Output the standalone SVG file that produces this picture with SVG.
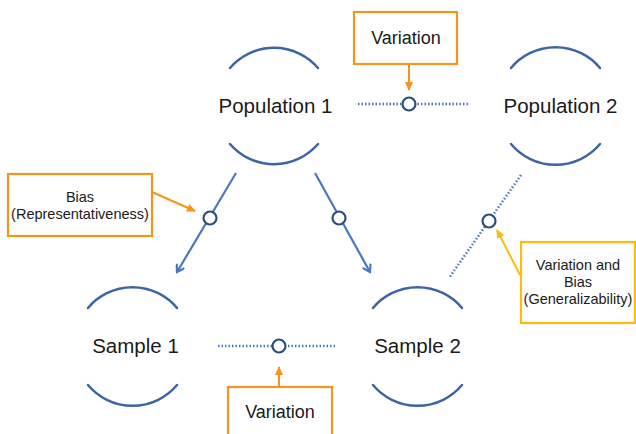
<svg xmlns="http://www.w3.org/2000/svg" width="636" height="434" viewBox="0 0 636 434">
<style>
.arc{fill:none;stroke:#3c64a6;stroke-width:2.5;stroke-linecap:round}
.lbl{font-family:"Liberation Sans",Arial,sans-serif;font-size:20.5px;fill:#1a1a1a;text-anchor:middle}
.sm{font-family:"Liberation Sans",Arial,sans-serif;font-size:14.5px;fill:#1a1a1a;text-anchor:middle}
.box{font-family:"Liberation Sans",Arial,sans-serif;font-size:18px;fill:#1a1a1a;text-anchor:middle}
.solid{stroke:#4a78bf;stroke-width:2.2;fill:none}
.dot{stroke:#4a78bf;stroke-width:2.5;stroke-dasharray:1.5 2;fill:none}
.ring{fill:#fff;stroke:#2c4c80;stroke-width:2.2}
.ob{fill:#fff;stroke:#f7941d;stroke-width:2.2}
.yb{fill:#fff;stroke:#fbbb10;stroke-width:2.2}
.oa{stroke:#f7941d;stroke-width:2;fill:none}
.ya{stroke:#fbbb10;stroke-width:2;fill:none}
</style>
<defs>
<marker id="bh" markerWidth="10" markerHeight="10" refX="8" refY="5" orient="auto" markerUnits="userSpaceOnUse">
<path d="M1,0.5 L8,5 L1,9.5" fill="none" stroke="#4a78bf" stroke-width="2.2"/>
</marker>
<marker id="oh" markerWidth="10" markerHeight="10" refX="8" refY="5" orient="auto" markerUnits="userSpaceOnUse">
<path d="M0,1 L9,5 L0,9 Z" fill="#f7941d"/>
</marker>
<marker id="yh" markerWidth="10" markerHeight="10" refX="8" refY="5" orient="auto" markerUnits="userSpaceOnUse">
<path d="M0,1 L9,5 L0,9 Z" fill="#fbbb10"/>
</marker>
</defs>
<rect width="636" height="434" fill="#fff"/>

<g id="population1">
<path class="arc" d="M230,68 A58,58 0 0 1 318,68"/>
<path class="arc" d="M230,144 A58,58 0 0 0 318,144"/>
<text class="lbl" x="275.5" y="113">Population 1</text>
</g>
<g id="population2">
<path class="arc" d="M511,68 A58,58 0 0 1 600,68"/>
<path class="arc" d="M511,144 A58,58 0 0 0 600,144"/>
<text class="lbl" x="560.5" y="113">Population 2</text>
</g>
<g id="sample1">
<path class="arc" d="M88,308 A58,58 0 0 1 177,308"/>
<path class="arc" d="M88,385 A58,58 0 0 0 177,385"/>
<text class="lbl" x="135.5" y="353">Sample 1</text>
</g>
<g id="sample2">
<path class="arc" d="M373,308 A58,58 0 0 1 462,308"/>
<path class="arc" d="M373,385 A58,58 0 0 0 462,385"/>
<text class="lbl" x="417.5" y="353">Sample 2</text>
</g>

<g id="connectors">
<line class="dot" x1="358" y1="104" x2="468" y2="104"/>
<line class="dot" x1="218" y1="346" x2="337" y2="346"/>
<line class="dot" x1="521" y1="175" x2="449" y2="278"/>
<line class="solid" x1="236" y1="173" x2="177" y2="272" marker-end="url(#bh)"/>
<line class="solid" x1="315" y1="173" x2="370" y2="272" marker-end="url(#bh)"/>
<circle class="ring" cx="409" cy="104" r="6.5"/>
<circle class="ring" cx="279" cy="346" r="6.5"/>
<circle class="ring" cx="210" cy="218" r="6.5"/>
<circle class="ring" cx="339" cy="218" r="6.5"/>
<circle class="ring" cx="489" cy="221" r="6.5"/>
<line class="oa" x1="409" y1="64" x2="409" y2="90" marker-end="url(#oh)"/>
<line class="oa" x1="279" y1="387" x2="279" y2="367" marker-end="url(#oh)"/>
<line class="oa" x1="152" y1="192" x2="195" y2="211" marker-end="url(#oh)"/>
<line class="ya" x1="520" y1="275" x2="497" y2="230" marker-end="url(#yh)"/>
</g>

<g id="label-variation-top">
<rect class="ob" x="354" y="12" width="103" height="52"/>
<text class="box" x="406" y="44">Variation</text>
</g>
<g id="label-variation-bottom">
<rect class="ob" x="228" y="387" width="104" height="60"/>
<text class="box" x="280" y="418">Variation</text>
</g>
<g id="label-bias">
<rect class="ob" x="8" y="174" width="144" height="62"/>
<text class="sm" x="80" y="202">Bias</text>
<text class="sm" x="80" y="219">(Representativeness)</text>
</g>
<g id="label-generalizability">
<rect class="yb" x="521" y="242" width="114" height="81"/>
<text class="sm" x="578" y="270">Variation and</text>
<text class="sm" x="578" y="287">Bias</text>
<text class="sm" x="578" y="304">(Generalizability)</text>
</g>
</svg>
